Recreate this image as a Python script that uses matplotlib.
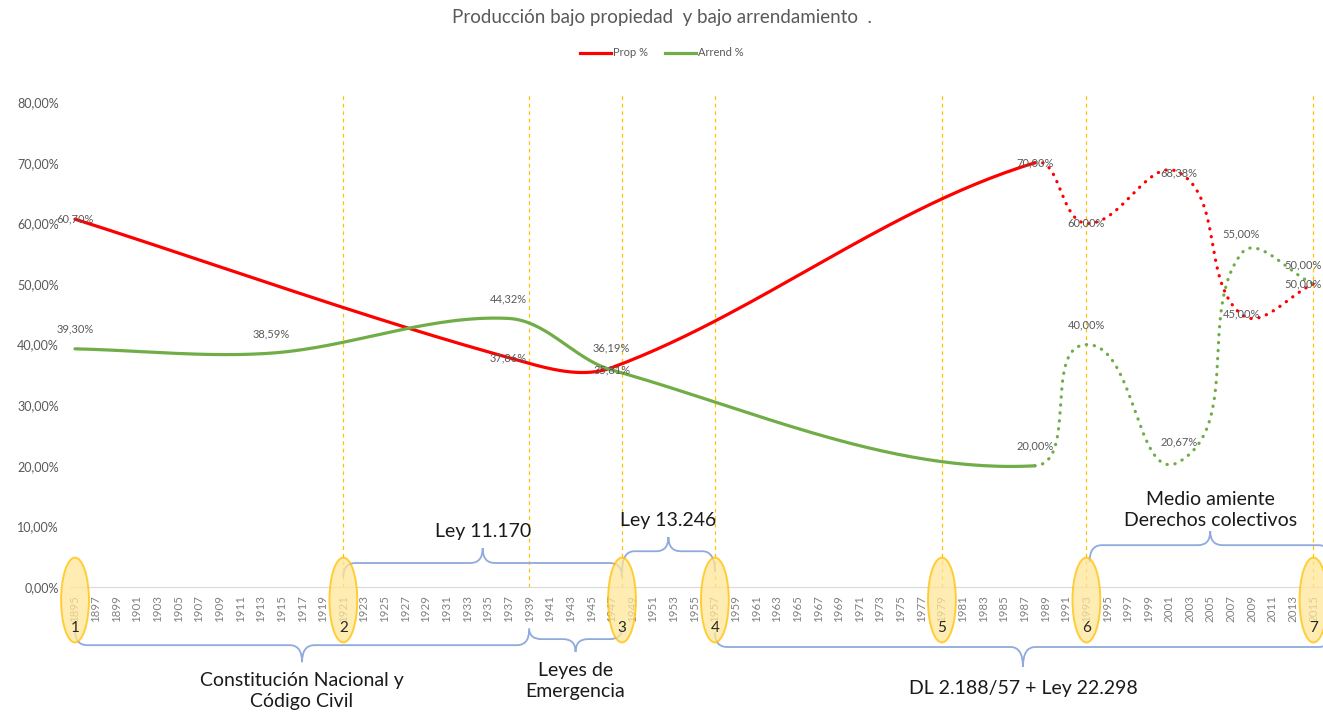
import numpy as np
import matplotlib
matplotlib.use("Agg")
import matplotlib.pyplot as plt
from matplotlib.patches import Ellipse, PathPatch
from matplotlib.path import Path
from matplotlib.lines import Line2D
from matplotlib.ticker import FuncFormatter

# --- data ---
prop_years = [1895, 1937, 1947, 1988, 1993, 2002, 2008, 2015]
prop_pct = [60.70, 37.86, 36.19, 70.00, 60.00, 68.38, 45.00, 50.00]
arrend_years = [1895, 1914, 1937, 1947, 1988, 1993, 2002, 2008, 2015]
arrend_pct = [39.30, 38.59, 44.32, 35.81, 20.00, 40.00, 20.67, 55.00, 50.00]
dotted_from = 1988  # later values drawn dotted

milestone_years = [1895, 1921, 1948, 1957, 1979, 1993, 2015]
milestone_labels = ["1", "2", "3", "4", "5", "6", "7"]
guide_years = [1921, 1939, 1948, 1957, 1979, 1993, 2015]
tick_years = list(range(1895, 2016, 2))

laws_above = ["Ley 11.170", "Ley 13.246", "Medio amiente\nDerechos colectivos"]
laws_above_span = [(1921, 1948), (1948, 1957), (1993.3, 2016.7)]
laws_below = ["Constitución Nacional y\nCódigo Civil", "Leyes de\nEmergencia", "DL 2.188/57 + Ley 22.298"]
laws_below_span = [(1895, 1939), (1939, 1948), (1957, 2016.7)]

RED = "#FF0000"
GREEN = "#70AD47"
GREY = "#595959"
BRACE = "#8FAADC"
ORANGE = "#FFC000"

plt.rcParams['font.family'] = ['Lato', 'DejaVu Sans']

fig = plt.figure(figsize=(13.23, 7.15), dpi=100)
ax = fig.add_axes([0.05279, 0.17902, 0.9478, 0.6923])
ax.set_xlim(1894.5, 2016)
ax.set_ylim(0, 81.68)


def smooth(xs, ys, n=60):
    # excel-like bezier smoothing, done in screen space
    pts = ax.transData.transform(np.column_stack([xs, ys]))
    inv = ax.transData.inverted()
    m = len(pts)
    segs = []
    for i in range(m - 1):
        p0 = pts[max(i - 1, 0)]
        p1 = pts[i]
        p2 = pts[i + 1]
        p3 = pts[min(i + 2, m - 1)]
        d = np.linalg.norm(p2 - p1)
        t1 = (p2 - p0) / np.linalg.norm(p2 - p0)
        t2 = (p3 - p1) / np.linalg.norm(p3 - p1)
        c1 = p1 + t1 * d / 3
        c2 = p2 - t2 * d / 3
        t = np.linspace(0, 1, n)[:, None]
        seg = (1 - t) ** 3 * p1 + 3 * (1 - t) ** 2 * t * c1 + 3 * (1 - t) * t ** 2 * c2 + t ** 3 * p2
        segs.append(inv.transform(seg))
    return segs


def draw_series(xs, ys, color):
    segs = smooth(xs, ys)
    solid = [s for s, x0 in zip(segs, xs[:-1]) if x0 < dotted_from]
    dotted = [s for s, x0 in zip(segs, xs[:-1]) if x0 >= dotted_from]
    a = np.vstack(solid)
    ax.plot(a[:, 0], a[:, 1], color=color, lw=2.3, solid_capstyle='round', zorder=3)
    b = np.vstack(dotted)
    ax.plot(b[:, 0], b[:, 1], color=color, lw=2.3, linestyle=(0, (0.1, 2.4)),
            dash_capstyle='round', zorder=3)


for gy in guide_years:
    ax.axvline(gy, color=ORANGE, lw=0.9, linestyle=(0, (3, 3)), zorder=1)

draw_series(prop_years, prop_pct, RED)
draw_series(arrend_years, arrend_pct, GREEN)


def pct(v):
    return f"{v:.2f}%".replace(".", ",")


def data_labels(xs, ys, lifts):
    for i, (x, y, dy) in enumerate(zip(xs, ys, lifts)):
        last = i == len(xs) - 1
        ax.annotate(pct(y), (x, y), xytext=(6 if last else 0, dy), textcoords='offset points',
                    ha='right' if last else 'center', va='center', fontsize=8,
                    color=GREY, zorder=4)


data_labels(prop_years, prop_pct, [0, 0, 14, 0, 0, 0, 0, 0])
data_labels(arrend_years, arrend_pct, [14, 14, 14, 0, 14, 14, 14, 14, 14])

# axes styling
for s in ['left', 'right', 'top']:
    ax.spines[s].set_visible(False)
ax.spines['bottom'].set_color('#D9D9D9')
ax.set_yticks(np.arange(0, 81, 10))
ax.yaxis.set_major_formatter(FuncFormatter(lambda v, p: pct(v)))
ax.set_xticks(tick_years)
ax.set_xticklabels([str(y) for y in tick_years], rotation=90)
ax.tick_params(axis='y', length=0, pad=8, labelsize=9, labelcolor=GREY)
ax.tick_params(axis='x', length=0, pad=6, labelsize=8.3, labelcolor='#808080')

# numbered ellipses
for x, lab in zip(milestone_years, milestone_labels):
    ax.add_patch(Ellipse((x, -2.15), 2.7, 14, facecolor='#FFE699', edgecolor=ORANGE,
                         lw=1.4, alpha=0.75, clip_on=False, zorder=5))
    ax.text(x, -6.8, lab, ha='center', va='center', fontsize=11, color='#262626',
            clip_on=False, zorder=6)


def brace(x0, x1, y_end, y_bar, y_tip, r=1.2):
    xm = (x0 + x1) / 2
    verts = [(x0, y_end), (x0, y_bar), (x0 + r, y_bar),
             (xm - r, y_bar), (xm, y_bar), (xm, y_tip),
             (xm, y_bar), (xm + r, y_bar),
             (x1 - r, y_bar), (x1, y_bar), (x1, y_end)]
    codes = [Path.MOVETO, Path.CURVE3, Path.CURVE3,
             Path.LINETO, Path.CURVE3, Path.CURVE3,
             Path.CURVE3, Path.CURVE3,
             Path.LINETO, Path.CURVE3, Path.CURVE3]
    ax.add_patch(PathPatch(Path(verts, codes), facecolor='none', edgecolor=BRACE,
                           lw=1.3, clip_on=False, zorder=4))
    return xm


above_levels = [(1.65, 3.96, 6.4, 9.1), (2.5, 5.9, 8.25, 10.9), (4.1, 6.9, 9.2, 12.7)]
below_levels = [(-7.1, -9.6, -12.4, -17.15), (-6.8, -8.6, -10.7, -15.45), (-7.5, -9.9, -13.2, -16.8)]

for lab, (x0, x1), (ye, yb, yt, ty) in zip(laws_above, laws_above_span, above_levels):
    xm = brace(x0, x1, ye, yb, yt)
    ax.text(xm, ty, lab, ha='center', va='center', fontsize=14, color='#1a1a1a',
            linespacing=1.3, clip_on=False, zorder=6)
for lab, (x0, x1), (ye, yb, yt, ty) in zip(laws_below, laws_below_span, below_levels):
    xm = brace(x0, x1, ye, yb, yt)
    ax.text(xm, ty, lab, ha='center', va='center', fontsize=14, color='#1a1a1a',
            linespacing=1.3, clip_on=False, zorder=6)

fig.text(0.5, 1 - 18 / 715, "Producción bajo propiedad  y bajo arrendamiento  .",
         ha='center', va='center', fontsize=13.5, color=GREY)
handles = [Line2D([], [], color=RED, lw=2.3), Line2D([], [], color=GREEN, lw=2.3)]
fig.legend(handles, ["Prop %", "Arrend %"], loc='center', bbox_to_anchor=(0.5, 1 - 53 / 715),
           ncol=2, frameon=False, fontsize=8, handlelength=2.8, handletextpad=0.2,
           columnspacing=1.5, labelcolor=GREY)

fig.savefig("out.png", dpi=100)
